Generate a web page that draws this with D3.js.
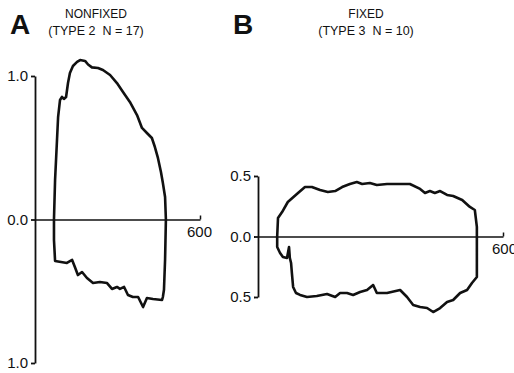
<!DOCTYPE html>
<html lang="en">
<head>
    <meta charset="UTF-8">
    <title>Nonfixed vs fixed</title>
    <script src="https://cdn.jsdelivr.net/npm/d3@7"></script>
    <style>
        body { margin: 0; background: #fff; }
        text { font-family: "Liberation Sans", Arial, sans-serif; fill: #111; }
    </style>
</head>
<body>
    <svg width="514" height="373" id="mainsvg" style="display: block;"></svg>
    <script>
        // panel A: nonfixed (type 2, N = 17), loop traced clockwise from onset
        const aTime = [69, 73, 80, 84, 91, 98, 105, 113, 120, 127, 138, 153, 164, 182, 193, 207, 229, 247, 273, 298,
            320, 345, 371, 389, 407, 425, 436, 447, 458, 465, 473, 476,
            473, 469, 465, 462, 429, 407, 393, 375, 356, 338, 324, 309, 298, 280, 262, 236, 211, 189, 171, 156,
            145, 135, 116, 73, 69, 69];
        const aAmp = [0, 0.275, 0.554, 0.714, 0.833, 0.854, 0.84, 0.854, 0.951, 1.021, 1.07, 1.098, 1.111, 1.105, 1.08, 1.06, 1.056, 1.042, 1.007, 0.951,
            0.889, 0.819, 0.728, 0.638, 0.603, 0.568, 0.505, 0.429, 0.331, 0.254, 0.157, 0,
            -0.28, -0.49, -0.54, -0.561, -0.554, -0.547, -0.61, -0.54, -0.54, -0.526, -0.47, -0.484, -0.47, -0.484, -0.443, -0.436, -0.443, -0.408, -0.366, -0.387,
            -0.331, -0.282, -0.303, -0.289, -0.143, 0];

        // panel B: fixed (type 3, N = 10)
        const bTime = [47, 49, 59, 73, 98, 115, 132, 152, 171, 189, 206, 225, 242, 255, 274, 291, 316, 340, 372, 397,
            409, 421, 433, 446, 463, 478, 500, 519, 531, 536, 536,
            536, 536, 524, 512, 495, 478, 463, 446, 429, 414, 397, 380, 365, 348, 316, 291, 282, 267, 250, 233,
            218, 201, 189, 169, 144, 120, 103, 93, 86, 83, 81, 78, 76, 71, 61, 54, 47, 47];
        const bAmp = [0, 0.153, 0.202, 0.285, 0.36, 0.409, 0.409, 0.384, 0.368, 0.376, 0.409, 0.434, 0.45, 0.434, 0.442, 0.426, 0.434, 0.434, 0.434, 0.393,
            0.36, 0.376, 0.36, 0.376, 0.343, 0.335, 0.302, 0.244, 0.219, 0.079, 0,
            -0.194, -0.335, -0.384, -0.442, -0.467, -0.525, -0.541, -0.591, -0.624, -0.591, -0.583, -0.566, -0.5, -0.442, -0.467, -0.467, -0.401, -0.442, -0.459, -0.483,
            -0.467, -0.467, -0.5, -0.475, -0.492, -0.5, -0.483, -0.467, -0.417, -0.302, -0.219, -0.178, -0.087, -0.178, -0.169, -0.136, -0.087, 0];

        const panels = [
            {letter: "A", title: "NONFIXED", sub: "(TYPE 2  N = 17)", time: aTime, amp: aAmp,
             yTicks: [-1, 0, 1], yDomain: [-1, 1], xr: [35, 200], yr: [363, 76], titleX: 96, letterX: 10, xdx: -1},
            {letter: "B", title: "FIXED", sub: "(TYPE 3  N = 10)", time: bTime, amp: bAmp,
             yTicks: [-0.5, 0, 0.5], yDomain: [-0.5, 0.5], xr: [258, 503], yr: [297, 176], titleX: 366, letterX: 233, xdx: 1}
        ];

        const svg = d3.select("#mainsvg");
        const fmt = d3.format(".1f");

        panels.forEach(p => {
            const x = d3.scaleLinear().domain([0, 600]).range(p.xr);
            const y = d3.scaleLinear().domain(p.yDomain).range(p.yr);
            const g = svg.append("g");

            g.append("text").attr("x", p.letterX).attr("y", 34)
                .attr("font-size", 28).attr("font-weight", "bold").text(p.letter);
            g.append("text").attr("x", p.titleX).attr("y", 18).attr("text-anchor", "middle")
                .attr("font-size", 12).text(p.title);
            g.append("text").attr("x", p.titleX).attr("y", 35).attr("text-anchor", "middle")
                .attr("font-size", 12.5).style("white-space", "pre").text(p.sub);

            const yAxis = g.append("g")
                .attr("transform", `translate(${p.xr[0]},0)`)
                .call(d3.axisLeft(y).tickValues(p.yTicks).tickSize(4).tickSizeOuter(0).tickPadding(3)
                    .tickFormat(d => fmt(Math.abs(d))));
            yAxis.selectAll("path, line").attr("stroke", "#111").attr("stroke-width", 1.8);
            yAxis.selectAll("text").attr("font-size", 15).attr("font-family", "Liberation Sans, Arial, sans-serif");

            const xAxis = g.append("g")
                .attr("transform", `translate(0,${y(0)})`)
                .call(d3.axisBottom(x).tickValues([600]).tickSizeInner(-4).tickSizeOuter(0).tickPadding(7)
                    .tickFormat(d3.format("d")));
            xAxis.selectAll("path, line").attr("stroke", "#111").attr("stroke-width", 1.5);
            xAxis.selectAll("text").attr("font-size", 15).attr("font-family", "Liberation Sans, Arial, sans-serif")
                .attr("dx", p.xdx);

            const line = d3.line().x(d => x(d[0])).y(d => y(d[1]));
            g.append("path")
                .datum(d3.zip(p.time, p.amp))
                .attr("fill", "none")
                .attr("stroke", "#111")
                .attr("stroke-width", 2.6)
                .attr("stroke-linejoin", "round")
                .attr("stroke-linecap", "round")
                .attr("d", line);
        });
    </script>
</body>
</html>
